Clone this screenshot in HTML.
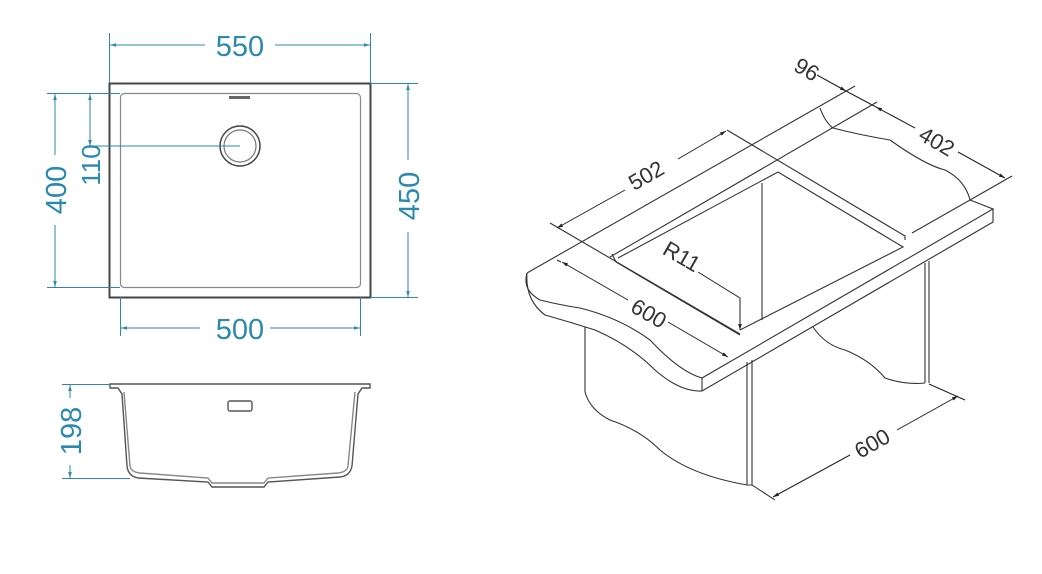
<!DOCTYPE html>
<html><head><meta charset="utf-8"><style>
html,body{margin:0;padding:0;background:#fff}
svg{display:block}
text{font-family:"Liberation Sans",sans-serif}
</style></head><body>
<svg width="1042" height="574" viewBox="0 0 1042 574" xmlns="http://www.w3.org/2000/svg">
<defs>
<marker id="ab" viewBox="0 0 10 10" refX="10" refY="5" markerWidth="9" markerHeight="6" orient="auto-start-reverse"><path d="M0,2 L10,5 L0,8 z" fill="#2a89ae"/></marker>
<marker id="ak" viewBox="0 0 10 10" refX="10" refY="5" markerWidth="9" markerHeight="6" orient="auto-start-reverse"><path d="M0,2 L10,5 L0,8 z" fill="#222"/></marker>
</defs>
<!-- TOP VIEW -->
<g fill="none" stroke="#444">
<rect x="109.5" y="83.5" width="261" height="214" stroke-width="2"/>
<rect x="120.5" y="93.5" width="240" height="194" rx="4" stroke="#888" stroke-width="1.2"/>
<circle cx="240" cy="146" r="20" stroke-width="1.5"/>
<circle cx="240" cy="146" r="16" stroke="#777" stroke-width="1.2"/>
<rect x="229" y="96" width="21" height="3" fill="#666" stroke="none"/>
</g>
<g stroke="#2a89ae" stroke-width="1" fill="none">
<line x1="109.5" y1="33" x2="109.5" y2="83"/><line x1="370.5" y1="33" x2="370.5" y2="83"/>
<line x1="110" y1="45" x2="205" y2="45" marker-start="url(#ab)"/><line x1="275" y1="45" x2="370" y2="45" marker-end="url(#ab)"/>
<line x1="120.5" y1="297" x2="120.5" y2="336"/><line x1="360.5" y1="297" x2="360.5" y2="336"/>
<line x1="121" y1="328" x2="200" y2="328" marker-start="url(#ab)"/><line x1="270" y1="328" x2="360" y2="328" marker-end="url(#ab)"/>
<line x1="370" y1="83.5" x2="418" y2="83.5"/><line x1="370" y1="297.5" x2="418" y2="297.5"/>
<line x1="408" y1="84" x2="408" y2="160" marker-start="url(#ab)"/><line x1="408" y1="232" x2="408" y2="297" marker-end="url(#ab)"/>
<line x1="47" y1="93.5" x2="120" y2="93.5"/><line x1="47" y1="287.5" x2="120" y2="287.5"/>
<line x1="55" y1="94" x2="55" y2="155" marker-start="url(#ab)"/><line x1="55" y1="225" x2="55" y2="287" marker-end="url(#ab)"/>
<line x1="90" y1="94" x2="90" y2="146" marker-start="url(#ab)" marker-end="url(#ab)"/>
<line x1="88" y1="146" x2="240" y2="146"/>
</g>
<g fill="#2a89ae" font-size="29" text-anchor="middle">
<text x="240" y="56">550</text>
<text x="240" y="339">500</text>
<text transform="translate(419,196) rotate(-90)">450</text>
<text transform="translate(66,190) rotate(-90)">400</text>
<text transform="translate(100,165) rotate(-90)" font-size="26">110</text>
<text transform="translate(81,431) rotate(-90)">198</text>
</g>
<!-- SECTION -->
<g fill="none" stroke="#555" stroke-width="1.4">
<path d="M110,384 H370 V388 H362 L358,394 L352,466 Q350,476 340,477 L268,482 L264,487 H212 L208,482 L138,478 Q128,476 127,466 L122,394 L118,388 H110 Z"/>
<path d="M124,392 L130,466 Q131,472 140,473 L208,478 L212,483 H264 L268,478 L338,473 Q347,472 348,466 L355,392" stroke="#888"/>
<rect x="228" y="401" width="24" height="10" rx="2"/>
</g>
<g stroke="#2a89ae" fill="none">
<line x1="62" y1="384.5" x2="110" y2="384.5"/><line x1="62" y1="478.5" x2="130" y2="478.5"/>
<line x1="70" y1="385" x2="70" y2="398" marker-start="url(#ab)"/><line x1="70" y1="465" x2="70" y2="478" marker-end="url(#ab)"/>
</g>
<!-- ISOMETRIC -->
<g fill="none" stroke="#333" stroke-width="1.1">
<!-- countertop -->
<line x1="527" y1="273" x2="855" y2="86"/>
<line x1="610" y1="257" x2="877" y2="102"/>
<path d="M527,273 Q522,290 540,300 Q560,305 580,308 Q620,318 650,340 Q680,372 702,378 L993,209 L970,200"/>
<path d="M527,273 Q525,300 545,315 Q570,322 595,330 Q630,345 655,370 Q680,392 702,391 L993,222 L993,209"/>
<line x1="702" y1="378" x2="702" y2="391"/>
<path d="M820,108 Q825,122 833,128 Q860,135 890,140 Q925,165 945,170 Q965,180 970,200"/>
<line x1="970" y1="200" x2="1012" y2="176"/>
<line x1="912" y1="233" x2="970" y2="200"/>
<!-- cutout -->
<path d="M550,223 L740,334"/>
<path d="M727,130 L905,236 L905,240"/>
<path d="M618,258 L778,172 L903,247 L740,330"/>
<path d="M612,254 L616,262 L740,335"/>
<line x1="762" y1="183" x2="762" y2="320"/>
<!-- cabinets -->
<path d="M585,327 V392 Q590,410 610,420 Q640,430 660,450 Q690,475 747,485 L752,485"/>
<line x1="747" y1="362" x2="747" y2="485"/><line x1="752" y1="360" x2="752" y2="485"/>
<line x1="925" y1="263" x2="925" y2="383"/><line x1="929" y1="261" x2="929" y2="383"/>
<path d="M813,327 Q825,345 845,350 Q870,360 885,378 Q905,385 925,383"/>
</g>
<g stroke="#222" stroke-width="1" fill="none">
<!-- 502 -->
<line x1="557" y1="228" x2="625" y2="190" marker-start="url(#ak)"/><line x1="678" y1="159" x2="726" y2="131" marker-end="url(#ak)"/>
<!-- 96 / 402 -->
<line x1="817" y1="75" x2="846" y2="91" marker-end="url(#ak)"/>
<line x1="846" y1="91" x2="876" y2="107"/>
<line x1="876" y1="107" x2="915" y2="128" marker-start="url(#ak)"/>
<line x1="958" y1="152" x2="1005" y2="178" marker-end="url(#ak)"/>
<!-- 600 left -->
<line x1="557" y1="260" x2="561" y2="262"/>
<line x1="562" y1="262" x2="628" y2="300" marker-start="url(#ak)"/><line x1="668" y1="322" x2="728" y2="357" marker-end="url(#ak)"/>
<!-- 600 bottom -->
<line x1="752" y1="485" x2="775" y2="500"/><line x1="929" y1="384" x2="965" y2="400"/>
<line x1="773" y1="497" x2="850" y2="455" marker-start="url(#ak)"/><line x1="897" y1="430" x2="958" y2="396" marker-end="url(#ak)"/>
<!-- R11 -->
<path d="M698,272 L740,298 L740,330" marker-end="url(#ak)"/>
</g>
<g fill="#333" font-size="22" text-anchor="middle">
<text transform="translate(650,182) rotate(-30)">502</text>
<text transform="translate(803,76) rotate(30)">96</text>
<text transform="translate(933,148) rotate(30)">402</text>
<text transform="translate(645,320) rotate(30)">600</text>
<text transform="translate(876,450) rotate(-30)">600</text>
<text transform="translate(678,263) rotate(30)">R11</text>
</g>
</svg>
</body></html>
